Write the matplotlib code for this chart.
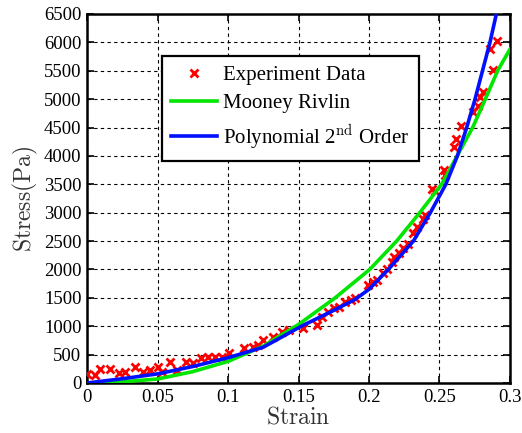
import matplotlib
matplotlib.use("Agg")
import matplotlib.pyplot as plt
from matplotlib.ticker import FormatStrFormatter, MultipleLocator

plt.rcParams["font.family"] = ["Liberation Serif", "DejaVu Serif"]
plt.rcParams["mathtext.fontset"] = "cm"

# experiment data (strain, stress in Pa)
exp_strain = [0.000, 0.006, 0.009, 0.016, 0.023, 0.027, 0.034, 0.040, 0.045, 0.050,
              0.053, 0.059, 0.064, 0.070, 0.075, 0.081, 0.086, 0.091, 0.096, 0.101,
              0.111, 0.118, 0.121, 0.125, 0.132, 0.138, 0.143, 0.153, 0.163, 0.167,
              0.171, 0.175, 0.179, 0.183, 0.187, 0.190, 0.199, 0.203, 0.206, 0.210,
              0.213, 0.216, 0.218, 0.221, 0.224, 0.228, 0.231, 0.234, 0.238, 0.240,
              0.245, 0.247, 0.253, 0.254, 0.260, 0.262, 0.265, 0.274, 0.277, 0.279,
              0.281, 0.288, 0.286, 0.291]
exp_stress = [160, 145, 245, 245, 175, 195, 285, 200, 230, 285,
              195, 370, 230, 370, 350, 440, 460, 455, 460, 530,
              620, 640, 670, 760, 810, 900, 935, 970, 1025, 1165,
              1255, 1325, 1340, 1430, 1465, 1500, 1730, 1785, 1820, 1940,
              2000, 2140, 2225, 2295, 2385, 2440, 2650, 2740, 2880, 2965,
              3410, 3375, 3760, 3670, 4150, 4300, 4520, 4770, 4875, 5030,
              5120, 5510, 5880, 6020]

# Mooney Rivlin fit
mr_strain = [0, 0.025, 0.05, 0.075, 0.1, 0.125, 0.15, 0.176, 0.2005, 0.2196,
             0.236, 0.2515, 0.2625, 0.2735, 0.2825, 0.2912, 0.3]
mr_stress = [0, 20, 70, 200, 380, 650, 1030, 1500, 2000, 2500,
             3000, 3500, 4000, 4500, 5000, 5500, 5880]

# Polynomial 2nd order fit
poly_strain = [0, 0.025, 0.05, 0.075, 0.1, 0.125, 0.152, 0.175, 0.19, 0.2,
               0.2137, 0.2315, 0.2435, 0.2545, 0.2627, 0.2693, 0.2752, 0.2805,
               0.2858, 0.2906]
poly_stress = [0, 75, 160, 290, 445, 630, 1000, 1280, 1470, 1650,
               2000, 2500, 3000, 3500, 4000, 4500, 5000, 5500,
               6000, 6530]

fig = plt.figure(figsize=(5.22, 4.33), dpi=100)
ax = fig.add_axes([0.1667, 0.1155, 0.8103, 0.8522])

ax.plot(exp_strain, exp_stress, "x", color="red", markersize=6, mew=2,
        label="Experiment Data", zorder=3)
ax.plot(mr_strain, mr_stress, "-", color="#00e600", linewidth=2.6,
        label="Mooney Rivlin", zorder=4)
ax.plot(poly_strain, poly_stress, "-", color="#0010ff", linewidth=2.6,
        label="Polynomial 2$^{\\mathrm{nd}}$ Order", zorder=5)

ax.set_xlim(0, 0.3)
ax.set_ylim(0, 6500)
ax.xaxis.set_major_locator(MultipleLocator(0.05))
ax.yaxis.set_major_locator(MultipleLocator(500))
ax.xaxis.set_major_formatter(FormatStrFormatter("%g"))

ax.grid(True, color="black", linestyle=(0, (3, 3)), linewidth=0.8)
ax.tick_params(axis="both", direction="in", top=True, right=True,
               length=5, width=1.2, labelsize=13.5, pad=4)
for s in ax.spines.values():
    s.set_linewidth(1.8)

ax.set_xlabel("$\\mathrm{Strain}$", fontsize=17, color="#333333", labelpad=1)
ax.set_ylabel("$\\mathrm{Stress(Pa)}$", fontsize=17, color="#333333", labelpad=3)

leg = ax.legend(loc="upper left", bbox_to_anchor=(0.177, 0.886), fontsize=15,
                frameon=True, fancybox=False, edgecolor="black",
                borderaxespad=0, handlelength=2.2, borderpad=0.45,
                labelspacing=0.42, handletextpad=0.3)
leg.get_frame().set_linewidth(1.6)
leg.get_frame().set_alpha(1)

fig.savefig("out.png", dpi=100)
